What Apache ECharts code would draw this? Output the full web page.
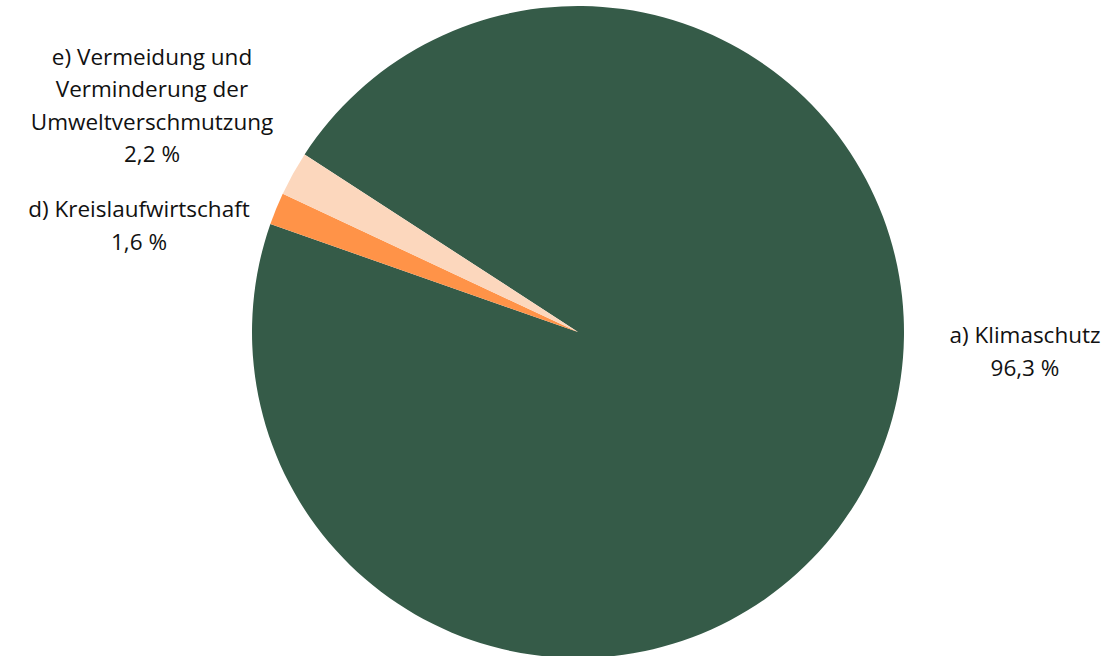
<!DOCTYPE html>
<html>
<head>
<meta charset="utf-8">
<script src="https://cdn.jsdelivr.net/npm/echarts@6/dist/echarts.min.js"></script>
<style>
  html, body { margin: 0; padding: 0; background: #fff; }
  #chart { width: 1111px; height: 656px; }
</style>
</head>
<body>
<div id="chart"></div>
<script>
(function() {
  var names = ['a) Klimaschutz', 'd) Kreislaufwirtschaft', 'e) Vermeidung und\nVerminderung der\nUmweltverschmutzung'];
  var values = [96.3, 1.6, 2.2];
  var valueLabels = ['96,3 %', '1,6 %', '2,2 %'];
  var colors = ['#355b48', '#ff9348', '#fcd7bd'];

  // label anchor points (centre of each text block)
  var labelPos = [[1025, 351], [139, 225], [152, 105]];

  var chart = echarts.init(document.getElementById('chart'), null, { renderer: 'svg' });
  chart.setOption({
    animation: false,
    series: [{
      type: 'pie',
      center: [578, 332],
      radius: [0, 326],
      startAngle: 147,
      clockwise: true,
      avoidLabelOverlap: false,
      data: names.map(function(n, i) {
        return { name: n, value: values[i], pct: valueLabels[i], itemStyle: { color: colors[i] } };
      }),
      itemStyle: { borderWidth: 0 },
      emphasis: { disabled: true },
      label: {
        show: true,
        position: 'outside',
        color: '#111',
        fontFamily: 'Open Sans',
        fontSize: 22.5,
        lineHeight: 32.5,
        align: 'center',
        formatter: function(p) { return p.name + '\n' + p.data.pct; }
      },
      labelLine: { show: false },
      labelLayout: function(params) {
        var pos = labelPos[params.dataIndex];
        return { x: pos[0], y: pos[1], align: 'center', verticalAlign: 'middle' };
      }
    }]
  });
  window.addEventListener('resize', function() { chart.resize(); });
})();
</script>
</body>
</html>
